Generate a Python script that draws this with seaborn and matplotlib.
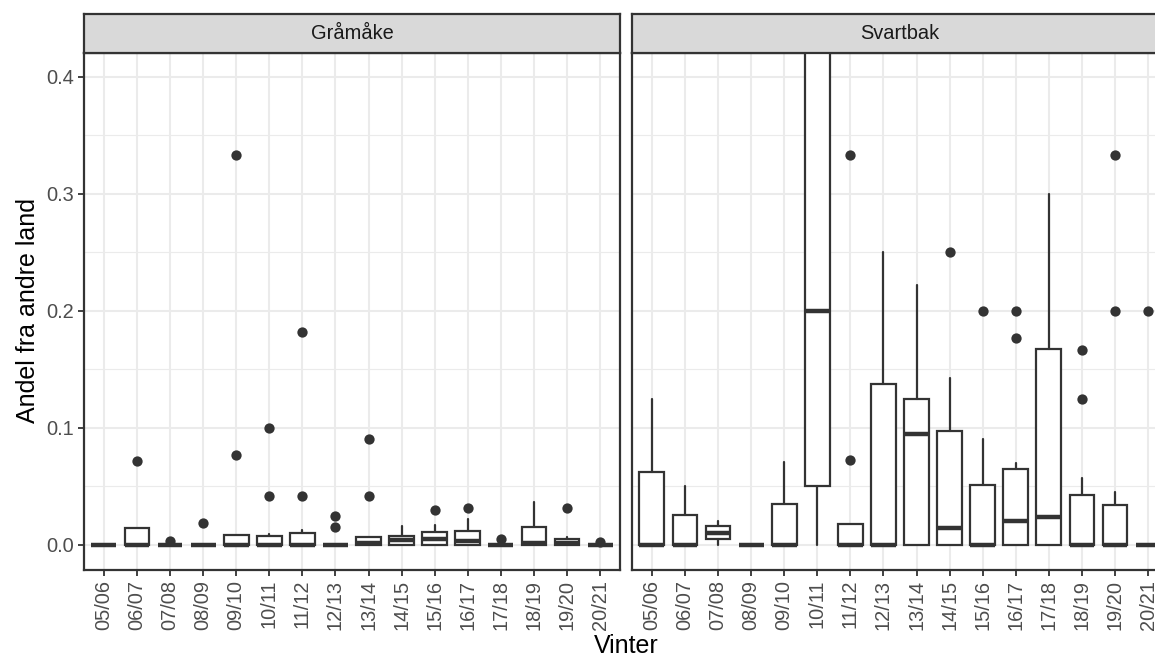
import matplotlib
matplotlib.use("Agg")
import matplotlib.pyplot as plt
import seaborn as sns
import pandas as pd

# Vintre (x-akse)
winters = ["05/06", "06/07", "07/08", "08/09", "09/10", "10/11", "11/12", "12/13",
           "13/14", "14/15", "15/16", "16/17", "17/18", "18/19", "19/20", "20/21"]

# Gråmåke: boksstatistikk
gm_wlo = [0, 0, 0, 0, 0, 0, 0, 0, 0, 0, 0, 0, 0, 0, 0, 0]
gm_q1 = [0, 0, 0, 0, 0, 0, 0, 0, 0, 0, 0, 0, 0, 0, 0, 0]
gm_med = [0, 0, 0, 0, 0, 0, 0, 0, 0.0015, 0.004, 0.005, 0.003, 0, 0.002, 0.002, 0]
gm_q3 = [0, 0.0148, 0, 0, 0.0085, 0.008, 0.0103, 0, 0.0068, 0.0077, 0.0114, 0.0122, 0, 0.0157, 0.0051, 0]
gm_whi = [0, 0.0148, 0, 0, 0.0085, 0.0097, 0.013, 0, 0.0068, 0.016, 0.017, 0.0222, 0, 0.037, 0.0066, 0]
gm_out_winter = ["06/07", "07/08", "08/09", "09/10", "09/10", "10/11", "10/11", "11/12", "11/12",
                 "12/13", "12/13", "13/14", "13/14", "15/16", "16/17", "17/18", "19/20", "20/21"]
gm_out_value = [0.0714, 0.003, 0.0185, 0.3333, 0.0769, 0.1, 0.0417, 0.1818, 0.0417,
                0.0244, 0.0156, 0.0909, 0.0417, 0.0303, 0.0313, 0.005, 0.0313, 0.0025]

# Svartbak
sb_wlo = [0, 0, 0, 0, 0, 0, 0, 0, 0, 0, 0, 0, 0, 0, 0, 0]
sb_q1 = [0, 0, 0.0048, 0, 0, 0.05, 0, 0, 0, 0, 0, 0, 0, 0, 0, 0]
sb_med = [0, 0, 0.0105, 0, 0, 0.2, 0, 0, 0.0952, 0.0148, 0, 0.0208, 0.0242, 0, 0, 0]
sb_q3 = [0.0624, 0.0254, 0.0162, 0, 0.0353, 0.5, 0.018, 0.138, 0.125, 0.0977, 0.051, 0.0647, 0.1672, 0.0427, 0.034, 0]
sb_whi = [0.125, 0.05, 0.0208, 0, 0.0709, 0.5, 0.018, 0.25, 0.222, 0.1429, 0.0903, 0.0704, 0.3, 0.057, 0.0456, 0]
sb_out_winter = ["11/12", "11/12", "14/15", "15/16", "16/17", "16/17", "18/19", "18/19",
                 "19/20", "19/20", "20/21"]
sb_out_value = [0.3333, 0.0725, 0.25, 0.2, 0.2, 0.1765, 0.1667, 0.125, 0.3333, 0.2, 0.2]

species = ["Gråmåke", "Svartbak"]

sns.set_theme(style="whitegrid")
plt.rcParams['font.family'] = ['Liberation Sans', 'DejaVu Sans']

DARK = "#333333"
W, H = 1155, 657
fig = plt.figure(figsize=(W / 100, H / 100), dpi=100)
fig.patch.set_facecolor("white")


def px(x0, y_top, w, h):
    # piksler -> figurkoordinater
    return [x0 / W, (H - y_top - h) / H, w / W, h / H]


panels = [
    (84, "Gråmåke", gm_wlo, gm_q1, gm_med, gm_q3, gm_whi, gm_out_winter, gm_out_value),
    (632, "Svartbak", sb_wlo, sb_q1, sb_med, sb_q3, sb_whi, sb_out_winter, sb_out_value),
]

for i, (x0, name, wlo, q1, med, q3, whi, ow, ov) in enumerate(panels):
    ax = fig.add_axes(px(x0, 53, 536, 517))
    strip = fig.add_axes(px(x0, 14, 536, 39))

    stats = []
    for j in range(len(winters)):
        stats.append(dict(med=med[j], q1=q1[j], q3=q3[j], whislo=wlo[j], whishi=whi[j], fliers=[]))
    ax.bxp(stats, positions=list(range(len(winters))), widths=0.75,
           showfliers=False, showcaps=False, patch_artist=True,
           boxprops=dict(facecolor="white", edgecolor=DARK, linewidth=1.6, joinstyle="miter"),
           whiskerprops=dict(color=DARK, linewidth=1.6),
           medianprops=dict(color=DARK, linewidth=3.2, solid_capstyle="butt"),
           zorder=3)

    out = pd.DataFrame({"x": [winters.index(w) for w in ow], "y": ov})
    sns.scatterplot(data=out, x="x", y="y", ax=ax, color=DARK, s=55,
                    linewidth=0, zorder=4, legend=False)

    ax.set_xlim(-0.6, len(winters) - 0.4)
    ax.set_ylim(-0.0214, 0.4205)
    ax.set_xticks(range(len(winters)))
    ax.set_xticklabels(winters, rotation=90, fontsize=14.4, color="#4D4D4D")
    ax.set_yticks([0, 0.1, 0.2, 0.3, 0.4])
    ax.set_yticks([0.05, 0.15, 0.25, 0.35], minor=True)
    if i == 0:
        ax.set_yticklabels(["0.0", "0.1", "0.2", "0.3", "0.4"], fontsize=14.4, color="#4D4D4D")
        ax.tick_params(axis="y", which="major", length=4.5, width=1.3, color=DARK, pad=2.5, left=True)
    else:
        ax.set_yticklabels([])
        ax.tick_params(axis="y", which="major", length=0)
    ax.tick_params(axis="y", which="minor", length=0)
    ax.tick_params(axis="x", length=4.5, width=1.3, color=DARK, pad=2.5, bottom=True)
    ax.set_xlabel("")
    ax.set_ylabel("")

    ax.set_facecolor("white")
    ax.grid(True, which="major", color="#EBEBEB", linewidth=1.5)
    ax.grid(True, which="minor", axis="y", color="#EBEBEB", linewidth=0.8)
    ax.set_axisbelow(True)
    for sp in ax.spines.values():
        sp.set_color(DARK)
        sp.set_linewidth(1.6)
        sp.set_visible(True)

    strip.set_facecolor("#D9D9D9")
    strip.set_xticks([])
    strip.set_yticks([])
    strip.grid(False)
    for sp in strip.spines.values():
        sp.set_color(DARK)
        sp.set_linewidth(1.6)
        sp.set_visible(True)
    strip.text(0.5 * 536 / 536 if i == 0 else 0.5, 0.5, name, transform=strip.transAxes,
               ha="center", va="center", fontsize=14.4, color="#1A1A1A")

fig.text(28 / W, 1 - 311 / H, "Andel fra andre land", rotation=90,
         ha="center", va="center", fontsize=18, color="black")
fig.text(626 / W, 1 - 646 / H, "Vinter", ha="center", va="center",
         fontsize=18, color="black")

fig.savefig("out.png", dpi=100, facecolor="white")
